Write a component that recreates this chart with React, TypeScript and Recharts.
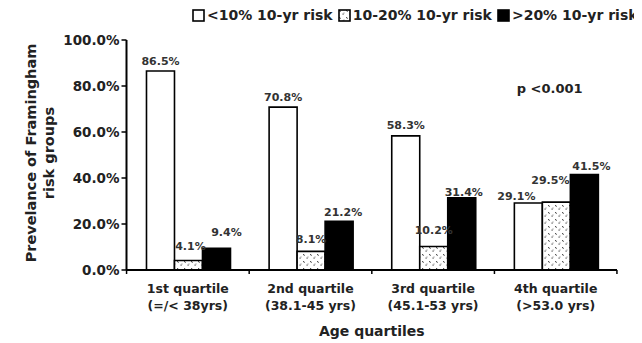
import React from 'react';
import { BarChart, Bar, XAxis, YAxis, Legend, LabelList, Label, ReferenceDot } from 'recharts';

const categoryLine1 = ['1st quartile', '2nd quartile', '3rd quartile', '4th quartile'];
const categoryLine2 = ['(=/< 38yrs)', '(38.1-45 yrs)', '(45.1-53 yrs)', '(>53.0 yrs)'];
const lowRisk = [86.5, 70.8, 58.3, 29.1];
const midRisk = [4.1, 8.1, 10.2, 29.5];
const highRisk = [9.4, 21.2, 31.4, 41.5];
const yTicks = [0, 20, 40, 60, 80, 100];
const seriesNames = ['<10% 10-yr risk', '10-20% 10-yr risk', '>20% 10-yr risk'];
const seriesFills = ['#ffffff', 'url(#dots)', '#000000'];
const pValueText = 'p <0.001';
const pValuePos = { category: '4th quartile', value: 79 };

// label placement tweaks (style only): horizontal shift and lift above bar top, per point
const lowLabelDx = [0, 0, 0, -12];
const lowLabelLift = [6, 6, 7, 3];
const midLabelDx = [2, 0, 0, -6];
const midLabelLift = [11, 8, 13, 18];
const highLabelDx = [10, 4, 2, 7];
const highLabelLift = [12, 5, 2, 5];

const data = categoryLine1.map((c, i) => ({
  category: c,
  low: lowRisk[i],
  mid: midRisk[i],
  high: highRisk[i],
}));

const FONT = '"DejaVu Sans", Verdana, sans-serif';
const BAND = 122.5;

const XTick = (props: any) => {
  const { x, y, payload, index } = props;
  const i = categoryLine1.indexOf(payload.value);
  return (
    <g>
      <line x1={x - BAND / 2} x2={x - BAND / 2} y1={y} y2={y + 4} stroke="#000" strokeWidth={1.5} />
      {index === categoryLine1.length - 1 && (
        <line x1={x + BAND / 2} x2={x + BAND / 2} y1={y} y2={y + 4} stroke="#000" strokeWidth={1.5} />
      )}
      <text x={x} y={y + 23} textAnchor="middle" fontFamily={FONT} fontWeight="bold" fontSize={12.5} fill="#222">
        {payload.value}
      </text>
      <text x={x} y={y + 40} textAnchor="middle" fontFamily={FONT} fontWeight="bold" fontSize={12.5} fill="#222">
        {categoryLine2[i]}
      </text>
    </g>
  );
};

const YLabel = (props: any) => {
  const { viewBox } = props;
  const cy = viewBox.y + viewBox.height / 2 - 2;
  const x1 = 23;
  const x2 = 41;
  return (
    <g>
      <text x={x1} y={cy} transform={`rotate(-90, ${x1}, ${cy})`} textAnchor="middle" dominantBaseline="central"
        fontFamily={FONT} fontWeight="bold" fontSize={14.5} fill="#222">Prevelance of Framingham</text>
      <text x={x2} y={cy} transform={`rotate(-90, ${x2}, ${cy})`} textAnchor="middle" dominantBaseline="central"
        fontFamily={FONT} fontWeight="bold" fontSize={14.5} fill="#222">risk groups</text>
    </g>
  );
};

const XLabel = (props: any) => {
  const { viewBox } = props;
  return (
    <text x={viewBox.x + viewBox.width / 2} y={viewBox.y + 66} textAnchor="middle"
      fontFamily={FONT} fontWeight="bold" fontSize={14} fill="#222">Age quartiles</text>
  );
};

const LegendContent = () => (
  <div style={{ display: 'flex', alignItems: 'center', fontFamily: FONT, fontWeight: 'bold', fontSize: 14, color: '#222', whiteSpace: 'nowrap' }}>
    {seriesNames.map((name, i) => (
      <div key={i} style={{ display: 'flex', alignItems: 'center', marginRight: 5 }}>
        <svg width={13} height={13} style={{ marginRight: 2 }}>
          <rect x={1} y={1} width={11} height={11} fill={seriesFills[i]} stroke="#000" strokeWidth={1.6} />
        </svg>
        <span>{name}</span>
      </div>
    ))}
  </div>
);

const makeLabel = (dxArr: number[], liftArr: number[]) => (props: any) => {
  const { x, y, width, value, index } = props;
  return (
    <text x={x + width / 2 + dxArr[index]} y={y - liftArr[index]} textAnchor="middle"
      fontFamily={FONT} fontWeight="bold" fontSize={11} fill="#333">{`${value}%`}</text>
  );
};

const LowLabel = makeLabel(lowLabelDx, lowLabelLift);
const MidLabel = makeLabel(midLabelDx, midLabelLift);
const HighLabel = makeLabel(highLabelDx, highLabelLift);

export default function App() {
  return (
    <BarChart
      width={634}
      height={335}
      data={data}
      margin={{ top: 32, right: 25, bottom: 13, left: 0 }}
      barCategoryGap="16.3%"
      barGap={0}
    >
      <defs>
        <pattern id="dots" width="7" height="7" patternUnits="userSpaceOnUse">
          <rect width="7" height="7" fill="#fff" />
          <rect x="1" y="1" width="1.2" height="1.2" fill="#555" />
          <rect x="2" y="2" width="1" height="1" fill="#888" />
          <rect x="4.5" y="4.5" width="1.2" height="1.2" fill="#555" />
          <rect x="5.5" y="3.5" width="1" height="1" fill="#888" />
        </pattern>
      </defs>
      <XAxis
        dataKey="category"
        height={60}
        tickLine={false}
        tickSize={0}
        tickMargin={0}
        axisLine={{ stroke: '#000', strokeWidth: 2 }}
        tick={<XTick />}
        interval={0}
      >
        <Label content={<XLabel />} />
      </XAxis>
      <YAxis
        width={118.5}
        domain={[0, 100]}
        ticks={yTicks}
        tickFormatter={(v: number) => `${v.toFixed(1)}%`}
        tickSize={5}
        tickMargin={2}
        axisLine={{ stroke: '#000', strokeWidth: 2 }}
        tickLine={{ stroke: '#000', strokeWidth: 1.5 }}
        tick={{ fontFamily: FONT, fontWeight: 'bold', fontSize: 13.5, fill: '#222' }}
      >
        <Label content={<YLabel />} />
      </YAxis>
      <Legend
        layout="horizontal"
        verticalAlign="middle"
        align="center"
        wrapperStyle={{ top: -1, left: 184, width: 460 }}
        content={<LegendContent />}
      />
      <Bar dataKey="low" name={seriesNames[0]} fill={seriesFills[0]} stroke="#000" strokeWidth={1.6} isAnimationActive={false}>
        <LabelList dataKey="low" content={LowLabel} />
      </Bar>
      <Bar dataKey="mid" name={seriesNames[1]} fill={seriesFills[1]} stroke="#000" strokeWidth={1.6} isAnimationActive={false}>
        <LabelList dataKey="mid" content={MidLabel} />
      </Bar>
      <Bar dataKey="high" name={seriesNames[2]} fill={seriesFills[2]} stroke="#000" strokeWidth={1.6} isAnimationActive={false}>
        <LabelList dataKey="high" content={HighLabel} />
      </Bar>
      <ReferenceDot x={pValuePos.category} y={pValuePos.value} r={0} stroke="none" fill="none"
        label={{ value: pValueText, position: 'center', fontFamily: FONT, fontWeight: 'bold', fontSize: 13, fill: '#222', dx: -6 }} />
    </BarChart>
  );
}
